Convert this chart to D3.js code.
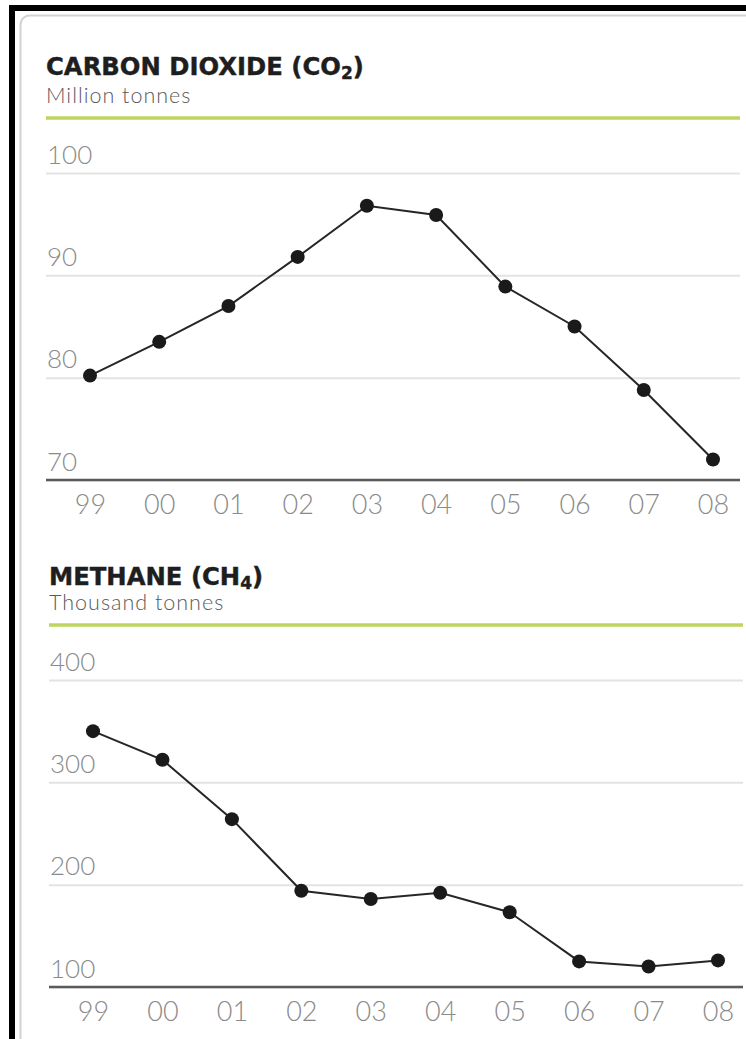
<!DOCTYPE html>
<html>
<head>
<meta charset="utf-8">
<script src="https://cdn.jsdelivr.net/npm/d3@7"></script>
<style>
  html, body { margin: 0; padding: 0; background: #ffffff; }
  svg { display: block; }
</style>
</head>
<body>
<svg id="chart" width="746" height="1039"></svg>
<script>
// Years shown on both horizontal axes
const years = ["99", "00", "01", "02", "03", "04", "05", "06", "07", "08"];

// Carbon dioxide emissions, million tonnes
const co2Values = [80.2, 83.5, 87.0, 91.8, 96.8, 95.9, 88.9, 85.0, 78.8, 72.0];
const co2Ticks = [70, 80, 90, 100];

// Methane emissions, thousand tonnes
const ch4Values = [350, 322, 264, 194, 186, 192, 173, 125, 120, 126];
const ch4Ticks = [100, 200, 300, 400];

const svg = d3.select("#chart");

// Page frame: black rule along the top and left, then a rounded light panel
svg.append("rect")
  .attr("x", 20.5).attr("y", 15.5)
  .attr("width", 780).attr("height", 1080)
  .attr("rx", 9)
  .attr("fill", "#ffffff")
  .attr("stroke", "#d2d2d2")
  .attr("stroke-width", 2);
svg.append("rect").attr("x", 9).attr("y", 5).attr("width", 737).attr("height", 6).attr("fill", "#000");
svg.append("rect").attr("x", 9).attr("y", 5).attr("width", 6).attr("height", 1034).attr("fill", "#000");

function drawPanel(cfg) {
  const g = svg.append("g");

  // Title with subscript formula digit
  const title = g.append("text")
    .attr("x", cfg.left)
    .attr("y", cfg.titleY)
    .attr("font-family", "DejaVu Sans, sans-serif")
    .attr("font-weight", "bold")
    .attr("font-size", 24.3)
    .attr("fill", "#1e1e1e")
    .attr("stroke", "#1e1e1e")
    .attr("stroke-width", 0.4);
  title.append("tspan").text(cfg.title);
  title.append("tspan").attr("font-size", 17).attr("dy", 4).text(cfg.sub);
  title.append("tspan").attr("dy", -4).text(")");

  g.append("text")
    .attr("x", cfg.left)
    .attr("y", cfg.subtitleY)
    .attr("font-family", "Lato, sans-serif")
    .attr("font-weight", 300)
    .attr("font-size", 21.5)
    .attr("letter-spacing", 1)
    .attr("fill", "#5a5a5a")
    .text(cfg.unit);

  // Green rule under the heading
  g.append("line")
    .attr("x1", cfg.left).attr("x2", cfg.right)
    .attr("y1", cfg.ruleY).attr("y2", cfg.ruleY)
    .attr("stroke", "#bdd45f")
    .attr("stroke-width", 3.5);

  const x = d3.scalePoint().domain(years).range(cfg.xRange);
  const y = d3.scaleLinear().domain(cfg.domain).range(cfg.yRange);

  // Horizontal gridlines and their labels
  const yAxis = g.append("g")
    .attr("transform", `translate(${cfg.left},0)`)
    .call(d3.axisRight(y).tickValues(cfg.ticks).tickSize(cfg.right - cfg.left).tickFormat(d3.format("d")));
  yAxis.select(".domain").remove();
  yAxis.selectAll(".tick line")
    .attr("stroke", "#e3e3e3")
    .attr("stroke-width", 2);
  yAxis.selectAll(".tick text")
    .attr("x", 1)
    .attr("dy", -10)
    .attr("text-anchor", "start")
    .attr("font-family", "Lato, sans-serif")
    .attr("font-weight", 300)
    .attr("font-size", 26)
    .attr("fill", "#8a8a8a");

  // Baseline
  g.append("line")
    .attr("x1", cfg.left).attr("x2", cfg.right)
    .attr("y1", y(cfg.domain[0])).attr("y2", y(cfg.domain[0]))
    .attr("stroke", "#5a5a5a")
    .attr("stroke-width", 2.6);

  // Year labels
  const xAxis = g.append("g")
    .attr("transform", `translate(0,${y(cfg.domain[0])})`)
    .call(d3.axisBottom(x).tickSize(0).tickPadding(0));
  xAxis.select(".domain").remove();
  xAxis.selectAll(".tick text")
    .attr("y", 34)
    .attr("dy", 0)
    .attr("font-family", "Lato, sans-serif")
    .attr("font-weight", 300)
    .attr("font-size", 27)
    .attr("fill", "#8a8a8a");

  // Series line and markers
  const pts = years.map((yr, i) => ({ yr, v: cfg.values[i] }));
  g.append("path")
    .datum(pts)
    .attr("fill", "none")
    .attr("stroke", "#262626")
    .attr("stroke-width", 2)
    .attr("d", d3.line().x(d => x(d.yr)).y(d => y(d.v)));
  g.selectAll("circle")
    .data(pts)
    .join("circle")
    .attr("cx", d => x(d.yr))
    .attr("cy", d => y(d.v))
    .attr("r", 7)
    .attr("fill", "#1a1a1a");
}

drawPanel({
  title: "CARBON DIOXIDE (CO", sub: "2", unit: "Million tonnes",
  left: 46, right: 740, titleY: 75, subtitleY: 103, ruleY: 118,
  xRange: [90, 713], domain: [70, 100], yRange: [480, 173],
  ticks: co2Ticks, values: co2Values
});

drawPanel({
  title: "METHANE (CH", sub: "4", unit: "Thousand tonnes",
  left: 49, right: 743, titleY: 585, subtitleY: 610, ruleY: 625,
  xRange: [93, 718], domain: [100, 400], yRange: [987, 680],
  ticks: ch4Ticks, values: ch4Values
});
</script>
</body>
</html>
